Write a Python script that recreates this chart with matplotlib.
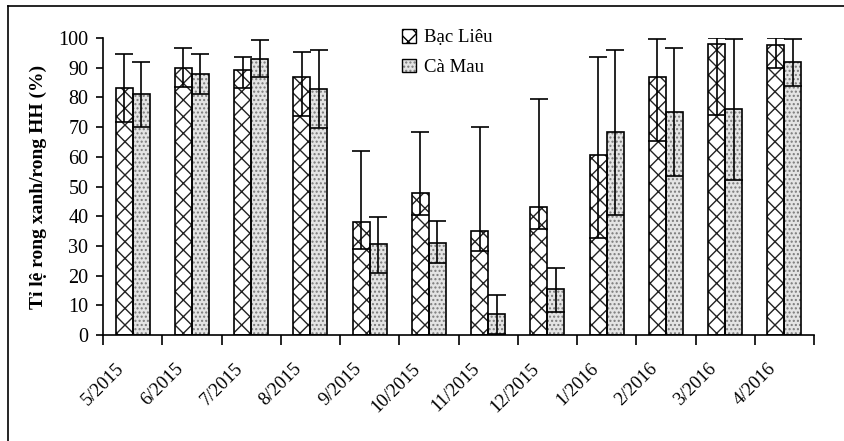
import matplotlib
matplotlib.use("Agg")
import matplotlib.pyplot as plt
import matplotlib.transforms as mtransforms
import numpy as np
from matplotlib.lines import Line2D
from matplotlib.patches import Patch

plt.rcParams['font.family'] = ['Liberation Serif', 'DejaVu Serif']
plt.rcParams['hatch.linewidth'] = 1.0

months = ["5/2015", "6/2015", "7/2015", "8/2015", "9/2015", "10/2015",
          "11/2015", "12/2015", "1/2016", "2/2016", "3/2016", "4/2016"]
bac_lieu = [83.0, 90.0, 89.1, 87.0, 38.2, 47.9, 35.0, 43.0, 60.6, 87.0, 98.0, 97.5]
bac_lieu_err_up = [11.5, 6.5, 4.4, 8.2, 23.9, 20.6, 35.1, 36.5, 32.9, 12.6, 2.1, 2.6]
bac_lieu_err_down = [11.2, 6.6, 6.1, 13.3, 9.3, 7.5, 6.6, 7.4, 28.0, 21.7, 23.9, 7.6]
ca_mau = [81.1, 87.8, 93.0, 82.9, 30.7, 31.1, 7.0, 15.4, 68.5, 75.0, 76.0, 91.8]
ca_mau_err_up = [10.7, 6.7, 6.2, 13.2, 9.1, 7.4, 6.5, 7.3, 27.6, 21.5, 23.6, 7.8]
ca_mau_err_down = [11.0, 6.8, 6.2, 13.1, 9.7, 7.0, 6.8, 7.7, 28.1, 21.5, 23.8, 8.0]
yticks = list(range(0, 101, 10))

fig = plt.figure(figsize=(8.45, 4.41), dpi=100)
ax = fig.add_axes([103/845, 1-335/441, (814-103)/845, (335-38)/441])

x = np.arange(len(months))
w = 0.287
ax.bar(x - w/2, bac_lieu, w, facecolor='white', edgecolor='#222222',
       hatch='xx', linewidth=0, zorder=2)
ax.bar(x - w/2, bac_lieu, w, fill=False, edgecolor='black', linewidth=1.2, zorder=3)
ax.bar(x + w/2, ca_mau, w, facecolor='#e4e4e4', edgecolor='#7a7a7a',
       hatch='....', linewidth=0, zorder=2)
ax.bar(x + w/2, ca_mau, w, fill=False, edgecolor='black', linewidth=1.2, zorder=3)

ax.errorbar(x - w/2, bac_lieu, yerr=[bac_lieu_err_down, bac_lieu_err_up], fmt='none',
            ecolor='black', elinewidth=1.2, capsize=6.5, capthick=1.2, zorder=4)
ax.errorbar(x + w/2, ca_mau, yerr=[ca_mau_err_down, ca_mau_err_up], fmt='none',
            ecolor='black', elinewidth=1.2, capsize=6.5, capthick=1.2, zorder=4)

ax.set_xlim(-0.5, len(months) - 0.5)
ax.set_ylim(0, 100)
ax.set_yticks(yticks)
ax.tick_params(axis='y', direction='out', length=5, width=1.2, labelsize=14.5, pad=5.5)
ax.set_xticks(x)
ax.set_xticklabels(months, rotation=45, ha='right', va='top', rotation_mode='anchor',
                   fontsize=13.5)
ax.tick_params(axis='x', which='major', length=0, pad=18)
offset = mtransforms.ScaledTranslation(-17/100, 0, fig.dpi_scale_trans)
for lab in ax.get_xticklabels():
    lab.set_transform(lab.get_transform() + offset)
ax.set_xticks(np.arange(-0.5, len(months), 1.0), minor=True)
ax.tick_params(axis='x', which='minor', direction='out', length=7, width=1.2)
for s in ['top', 'right']:
    ax.spines[s].set_visible(False)
for s in ['left', 'bottom']:
    ax.spines[s].set_linewidth(1.2)

ax.set_ylabel("Tỉ lệ rong xanh/rong HH (%)", fontsize=14, fontweight='bold')
ax.yaxis.set_label_coords((47-103)/711, 0.5)

h1 = Patch(facecolor='white', edgecolor='black', hatch='xx', linewidth=1.0)
h2 = (Patch(facecolor='#e4e4e4', edgecolor='#7a7a7a', hatch='....', linewidth=0),
      Patch(fill=False, edgecolor='black', linewidth=1.0))
fig.legend([h1, h2], ["Bạc Liêu", "Cà Mau"], loc='upper left',
           bbox_to_anchor=(402/845, 1-29/441), frameon=False, fontsize=13.5,
           handlelength=0.75, handleheight=0.75, handletextpad=0.45,
           labelspacing=0.65, borderpad=0, borderaxespad=0)

fig.add_artist(Line2D([8/845, 1], [1-6/441, 1-6/441], transform=fig.transFigure,
                      color='black', linewidth=1.2))
fig.add_artist(Line2D([8/845, 8/845], [0, 1-6/441], transform=fig.transFigure,
                      color='black', linewidth=1.2))

fig.savefig("out.png", dpi=100)
